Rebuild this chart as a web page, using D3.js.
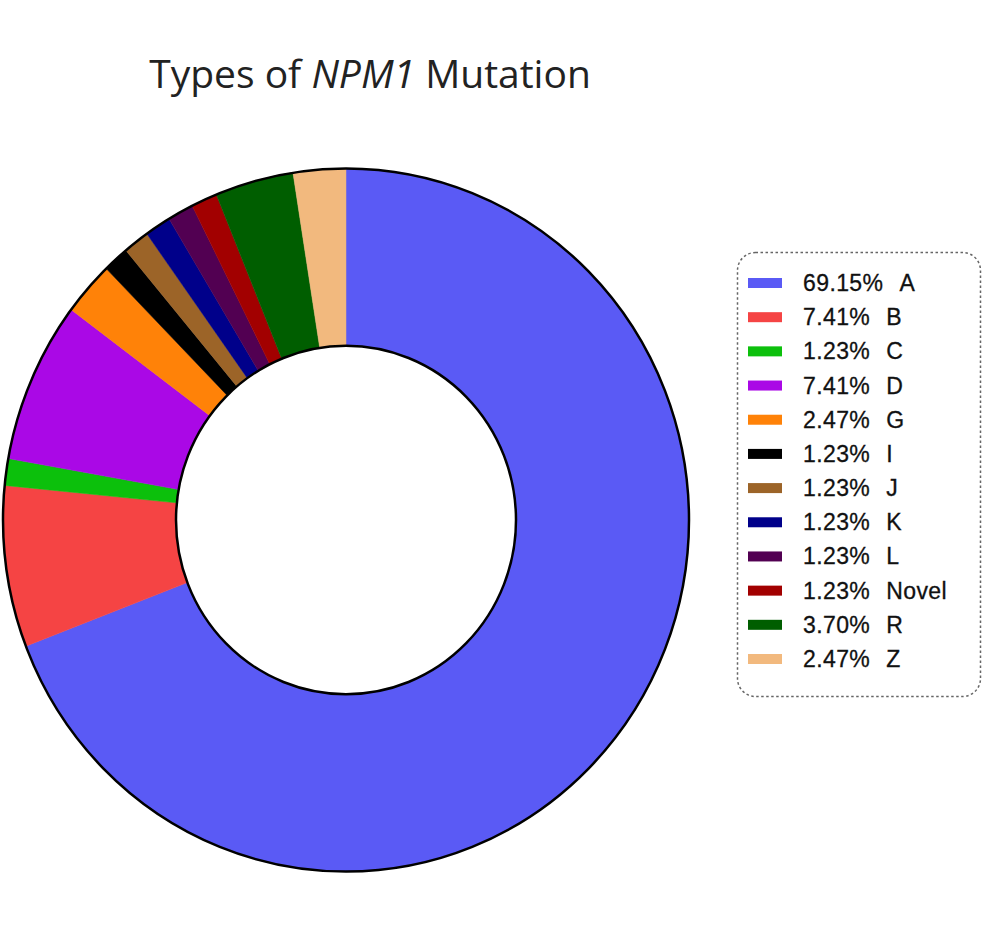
<!DOCTYPE html>
<html>
<head>
<meta charset="utf-8">
<script src="https://cdn.jsdelivr.net/npm/d3@7"></script>
<style>
  html, body { margin: 0; padding: 0; background: #fff; }
  svg { display: block; }
</style>
</head>
<body>
<svg id="chart" width="1000" height="940"></svg>
<script>
const categories = ["A", "B", "C", "D", "G", "I", "J", "K", "L", "Novel", "R", "Z"];
const percents = [69.15, 7.41, 1.23, 7.41, 2.47, 1.23, 1.23, 1.23, 1.23, 1.23, 3.70, 2.47];
const percentLabels = ["69.15%", "7.41%", "1.23%", "7.41%", "2.47%", "1.23%", "1.23%", "1.23%", "1.23%", "1.23%", "3.70%", "2.47%"];
const colors = ["#5a5af5", "#f54444", "#0cc00c", "#aa08e6", "#ff8208", "#000000", "#9c6428", "#00008a", "#520052", "#a20000", "#005e00", "#f2b97e"];

const svg = d3.select("#chart");

// Title
const title = svg.append("text")
  .attr("x", 370).attr("y", 88)
  .attr("text-anchor", "middle")
  .attr("font-family", "Open Sans, Lato, sans-serif")
  .attr("font-size", 39)
  .attr("fill", "#222");
title.append("tspan").text("Types of ");
title.append("tspan").attr("font-style", "italic").text("NPM1");
title.append("tspan").text(" Mutation");

// Donut
const data = categories.map((c, i) => ({ cat: c, value: percents[i], color: colors[i], label: percentLabels[i] }));
const pie = d3.pie().value(d => d.value).sort(null);
const rOuter = 343, rInner = 170;
const arc = d3.arc().innerRadius(rInner).outerRadius(rOuter);

const g = svg.append("g").attr("transform", "translate(346,520) scale(1,1.025)");
g.selectAll("path.slice")
  .data(pie(data))
  .join("path")
  .attr("class", "slice")
  .attr("d", arc)
  .attr("fill", d => d.data.color)
  .attr("stroke", d => d.data.color)
  .attr("stroke-width", 0.5);

g.append("circle").attr("r", rOuter).attr("fill", "none")
  .attr("stroke", "#000").attr("stroke-width", 2.5).attr("vector-effect", "non-scaling-stroke");
g.append("circle").attr("r", rInner).attr("fill", "none")
  .attr("stroke", "#000").attr("stroke-width", 2.5).attr("vector-effect", "non-scaling-stroke");

// Legend
const legend = svg.append("g");
legend.append("rect")
  .attr("x", 737.5).attr("y", 252.5).attr("width", 243).attr("height", 444)
  .attr("rx", 18).attr("ry", 18)
  .attr("fill", "none").attr("stroke", "#666").attr("stroke-width", 1.5)
  .attr("stroke-dasharray", "2.5,2.5");

const rowY = d3.scaleLinear().domain([0, categories.length - 1]).range([283, 659]);
const rows = legend.selectAll("g.row").data(data).join("g").attr("class", "row")
  .attr("transform", (d, i) => `translate(0,${rowY(i)})`);
rows.append("rect")
  .attr("x", 748).attr("y", -5).attr("width", 34).attr("height", 10)
  .attr("fill", d => d.color);
const txt = rows.append("text")
  .attr("x", 803).attr("y", 8)
  .attr("font-family", "Liberation Sans, Arial, sans-serif")
  .attr("font-size", 23)
  .attr("letter-spacing", 0.4)
  .attr("stroke", "#111").attr("stroke-width", 0.3)
  .attr("fill", "#111");
txt.append("tspan").text(d => d.label);
txt.append("tspan").attr("dx", 16).text(d => d.cat);
</script>
</body>
</html>
